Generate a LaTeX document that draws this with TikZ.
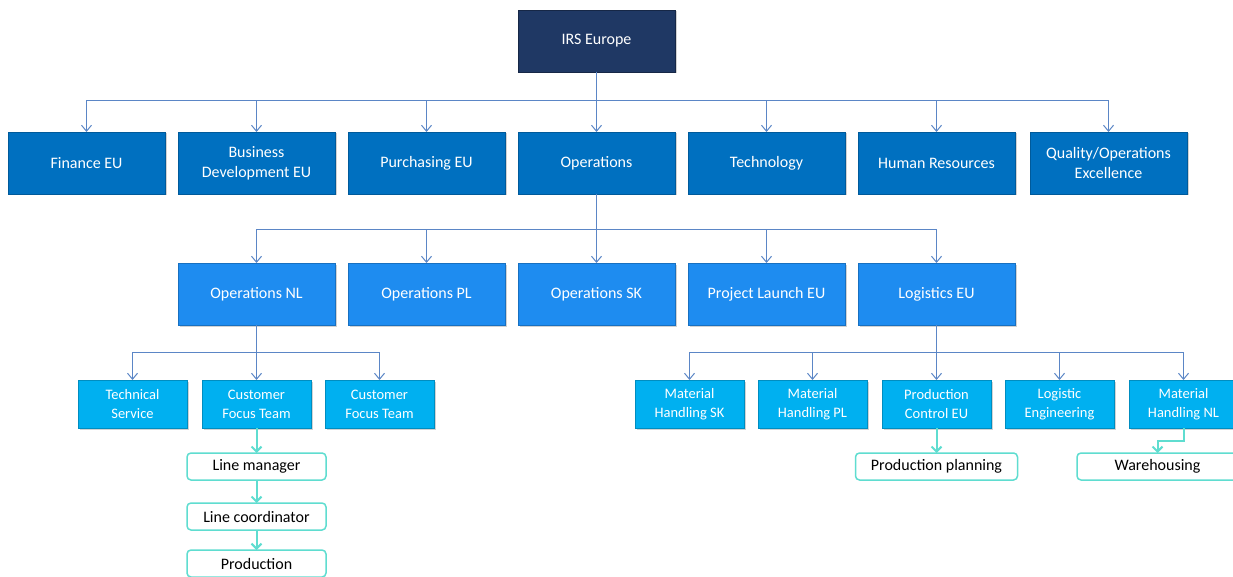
\documentclass[tikz,border=0pt]{standalone}
\usepackage{fontspec}
\setmainfont{Carlito}
\usetikzlibrary{positioning}
\usetikzlibrary{arrows.meta}
\usetikzlibrary{shadows}
\definecolor{irsnavy}{HTML}{1F3864}
\definecolor{deptblue}{HTML}{0070C0}
\definecolor{siteblue}{HTML}{1E8CF0}
\definecolor{teamblue}{HTML}{00B0F0}
\definecolor{linkblue}{HTML}{5B86C6}
\definecolor{turq}{HTML}{5FDDD0}
\tikzstyle{box} = [rectangle, text=white, align=center, inner sep=0pt, outer sep=0pt,
    font=\fontsize{16}{20}\selectfont,
    drop shadow={shadow xshift=1.5pt, shadow yshift=-1.5pt, opacity=.35}]
\tikzstyle{rootbox} = [box, fill=irsnavy, draw=irsnavy!70!black, line width=.5pt,
    minimum width=157pt, minimum height=62pt]
\tikzstyle{dept} = [box, fill=deptblue, draw=deptblue!80!black, line width=.5pt,
    minimum width=157pt, minimum height=62pt]
\tikzstyle{site} = [box, fill=siteblue, draw=siteblue!80!black, line width=.5pt,
    minimum width=157pt, minimum height=62pt]
\tikzstyle{team} = [box, fill=teamblue, draw=teamblue!80!black, line width=.5pt,
    minimum width=109pt, minimum height=48pt, font=\fontsize{14.5}{19}\selectfont]
\tikzstyle{task} = [rectangle, draw=turq, line width=1.5pt, rounded corners=4pt,
    fill=white, text=black, minimum width=139pt, minimum height=27pt,
    inner sep=0pt, outer sep=0pt, font=\fontsize{16}{20}\selectfont]
\tikzstyle{link} = [draw=linkblue, line width=1pt, -{Straight Barb[length=6pt,width=10pt]}]
\tikzstyle{sublink} = [draw=turq, line width=2pt, -{Straight Barb[length=5pt,width=10pt]}]

\begin{document}
\begin{tikzpicture}[x=1pt,y=1pt]
    \clip (0,0) rectangle (1233,-577);
    \fill[white] (0,0) rectangle (1233,-577);

    \node[rootbox] (irs) at (596.5,-41) {IRS Europe};

    \node[dept, below=60pt of irs] (ops) {Operations};
    \node[dept, left=13pt of ops] (purch) {Purchasing EU};
    \node[dept, left=13pt of purch] (busdev) {Business\\Development EU};
    \node[dept, left=13pt of busdev] (finance) {Finance EU};
    \node[dept, right=13pt of ops] (tech) {Technology};
    \node[dept, right=13pt of tech] (hr) {Human Resources};
    \node[dept, right=15pt of hr] (quality) {Quality/Operations\\Excellence};

    \draw[link] (irs.south) -- ++(0,-29) -| (finance.north);
    \draw[link] (irs.south) -- ++(0,-29) -| (busdev.north);
    \draw[link] (irs.south) -- ++(0,-29) -| (purch.north);
    \draw[link] (irs) -- (ops);
    \draw[link] (irs.south) -- ++(0,-29) -| (tech.north);
    \draw[link] (irs.south) -- ++(0,-29) -| (hr.north);
    \draw[link] (irs.south) -- ++(0,-29) -| (quality.north);

    \node[site, below=69pt of ops] (opssk) {Operations SK};
    \node[site, left=13pt of opssk] (opspl) {Operations PL};
    \node[site, left=13pt of opspl] (opsnl) {Operations NL};
    \node[site, right=13pt of opssk] (launch) {Project Launch EU};
    \node[site, right=13pt of launch] (logistics) {Logistics EU};

    \draw[link] (ops.south) -- ++(0,-36) -| (opsnl.north);
    \draw[link] (ops.south) -- ++(0,-36) -| (opspl.north);
    \draw[link] (ops) -- (opssk);
    \draw[link] (ops.south) -- ++(0,-36) -| (launch.north);
    \draw[link] (ops.south) -- ++(0,-36) -| (logistics.north);

    \node[team, below=55pt of opsnl] (cft1) {Customer\\Focus Team};
    \node[team, left=15pt of cft1] (techserv) {Technical\\Service};
    \node[team, right=14pt of cft1] (cft2) {Customer\\Focus Team};

    \draw[link] (opsnl.south) -- ++(0,-27) -| (techserv.north);
    \draw[link] (opsnl) -- (cft1);
    \draw[link] (opsnl.south) -- ++(0,-27) -| (cft2.north);

    \node[team, below=55pt of logistics] (prodctrl) {Production\\Control EU};
    \node[team, left=15pt of prodctrl] (mhpl) {Material\\Handling PL};
    \node[team, left=14pt of mhpl] (mhsk) {Material\\Handling SK};
    \node[team, right=14pt of prodctrl] (logeng) {Logistic\\Engineering};
    \node[team, right=15pt of logeng] (mhnl) {Material\\Handling NL};

    \draw[link] (logistics.south) -- ++(0,-27) -| (mhsk.north);
    \draw[link] (logistics.south) -- ++(0,-27) -| (mhpl.north);
    \draw[link] (logistics) -- (prodctrl);
    \draw[link] (logistics.south) -- ++(0,-27) -| (logeng.north);
    \draw[link] (logistics.south) -- ++(0,-27) -| (mhnl.north);

    % work units under the teams
    \node[task, below=25pt of cft1] (lineman) {Line manager};
    \node[task, below=23pt of lineman] (linecoord) {Line coordinator};
    \node[task, below=20pt of linecoord] (production) {Production};
    \node[task, minimum width=162pt, below=25pt of prodctrl] (planning) {Production planning};
    \node[task, minimum width=161pt, below=25pt of mhnl, xshift=-26pt] (warehouse) {Warehousing};

    \draw[sublink] (cft1) -- (lineman);
    \draw[sublink] (lineman) -- (linecoord);
    \draw[sublink] (linecoord) -- (production);
    \draw[sublink] (prodctrl) -- (planning);
    \draw[sublink] (mhnl.south) -- ++(0,-13) -| (warehouse.north);
\end{tikzpicture}
\end{document}
